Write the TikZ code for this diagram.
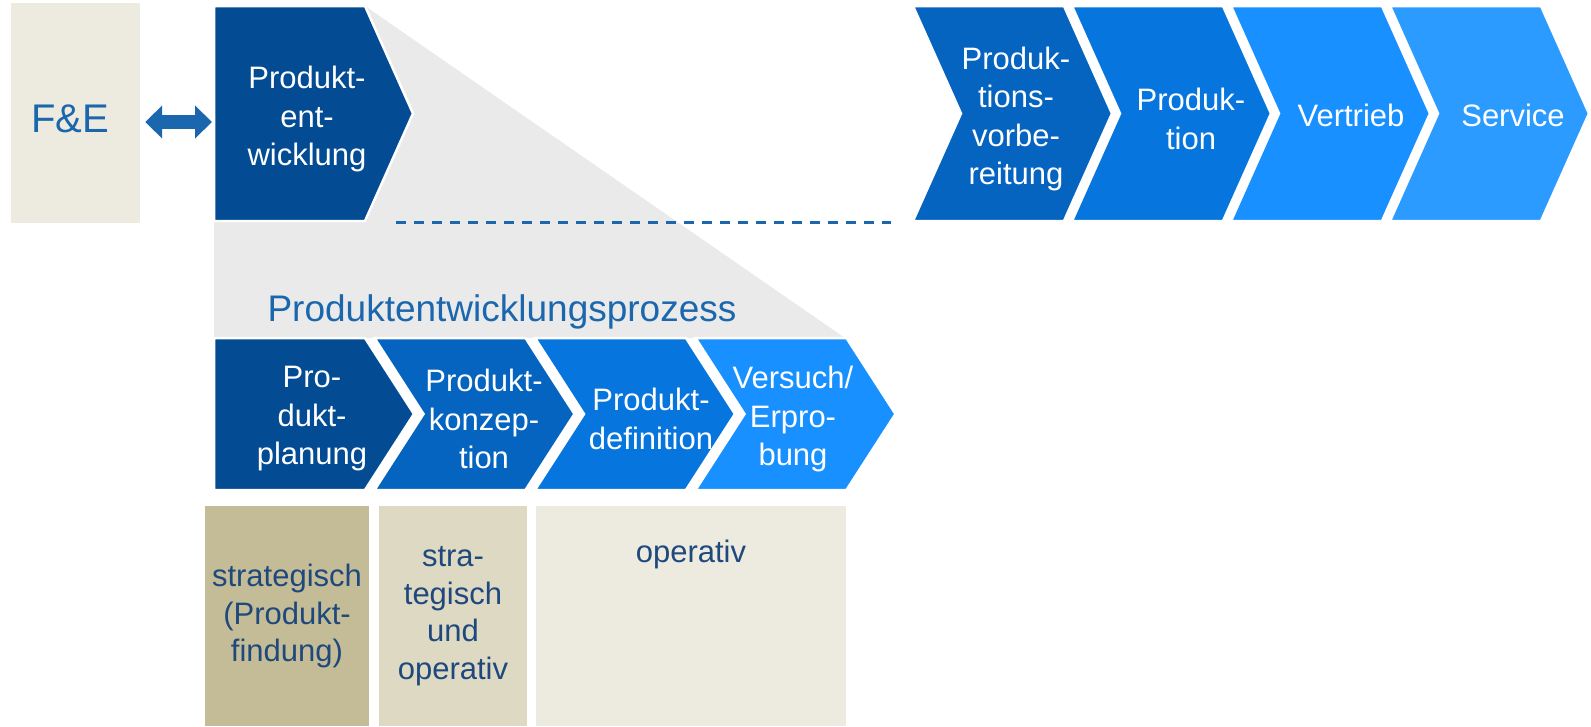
\documentclass[tikz,border=0pt]{standalone}
\usepackage{fontspec}
\setmainfont{Liberation Sans}
\usetikzlibrary{arrows.meta}
\definecolor{beige}{HTML}{EDEAE0}
\definecolor{khaki}{HTML}{C4BC96}
\definecolor{khakilight}{HTML}{DDD9C3}
\definecolor{grau}{HTML}{EAEAEA}
\definecolor{txtblue}{HTML}{1B67AD}
\definecolor{txtdark}{HTML}{1F497D}
\definecolor{chevA}{HTML}{034C94}
\definecolor{chevB}{HTML}{0564C0}
\definecolor{chevC}{HTML}{0676DE}
\definecolor{chevD}{HTML}{1890FF}
\definecolor{chevE}{HTML}{2B9BFF}
\newcommand{\dbl}{{Triangle[width=32pt,length=17pt]}-{Triangle[width=32pt,length=17pt]}}

\begin{document}
\begin{tikzpicture}[x=1pt,y=-1pt,
  chev/.style={draw=white,line width=2.5pt},
  chevtxt/.style={text=white,align=center,inner sep=0pt,font=\fontsize{31}{38.5}\selectfont},
  box/.style={inner sep=0pt,align=center,text=txtdark,font=\fontsize{31}{37.5}\selectfont}]
\useasboundingbox (0,0) rectangle (1591,726);
%zoom funnel
\fill[grau] (365,6) -- (845,338) -- (214,338) -- (214,6) -- cycle;
\node[fill=beige,minimum width=129pt,minimum height=220pt,inner sep=0pt] (fe) at (75.5,113) {};
\node[text=txtblue,inner sep=0pt,font=\fontsize{40}{48}\selectfont] (fetxt) at (70,119) {F\&E};
%value chain
\foreach \x/\n/\col/\tx/\ty/\nm/\txt in {
    214/0/chevA/307/119/pe/{Produkt-\\ent-\\wicklung},
    913/48/chevB/1016/119/pv/{Produk-\\tions-\\vorbe-\\reitung},
    1072/48/chevC/1191/119/pr/{Produk-\\tion},
    1231/48/chevD/1351/115/vt/{Vertrieb},
    1390/48/chevE/1513/115/sv/{Service}}{
  \fill[\col,chev] (\x,6) -- ++(151,0) -- ++(48,107.5) -- ++(-48,107.5)
    -- ++(-151,0) -- ++(\n,-107.5) -- cycle;
  \node[chevtxt] (\nm) at (\tx,\ty) {\txt};
}
\coordinate (pein) at (212,122);
\draw[\dbl,txtblue,line width=14pt] (fe.east |- pein) ++(5,0) -- (pein);
\coordinate (dl) at (396,222);
\coordinate (dr) at (891,222);
\draw[txtblue,line width=3pt,dash pattern=on 10pt off 8pt] (dl) -- (dr);
%product development process
\node[text=txtblue,font=\fontsize{37}{44}\selectfont] (title) at (502,312) {Produktentwicklungsprozess};
\foreach \x/\n/\col/\tx/\nm/\txt in {
    214/0/chevA/312/pp/{Pro-\\dukt-\\planung},
    374.5/49/chevB/484/pk/{Produkt-\\konzep-\\tion},
    535/49/chevC/651/pd/{Produkt-\\definition},
    695.5/49/chevD/793/ve/{Versuch/\\Erpro-\\bung}}{
  \fill[\col,chev] (\x,338) -- ++(151,0) -- ++(49,76) -- ++(-49,76)
    -- ++(-151,0) -- ++(\n,-76) -- cycle;
  \node[chevtxt] (\nm) at (\tx,419) {\txt};
}
%planning levels
\node[box,fill=khaki,minimum width=164pt,minimum height=220pt] (sb) at (287,616) {strategisch\\(Produkt-\\findung)};
\node[box,fill=khakilight,minimum width=148pt,minimum height=220pt] (so) at (453,616) {stra-\\tegisch\\und\\operativ};
\node[box,fill=beige,minimum width=310pt,minimum height=220pt] (ob) at (691,616) {};
\node[box] (op) at (691,554) {operativ};
\end{tikzpicture}
\end{document}
